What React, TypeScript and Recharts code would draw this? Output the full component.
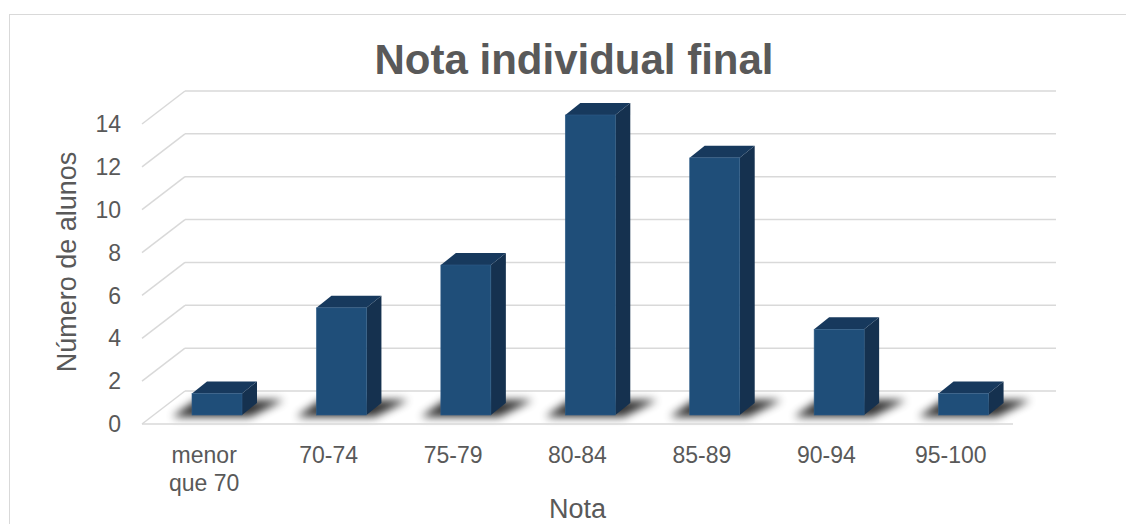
import React from "react";
import { BarChart, Bar, XAxis, YAxis, CartesianGrid } from "recharts";

const categories = ["menor que 70", "70-74", "75-79", "80-84", "85-89", "90-94", "95-100"];
const counts = [1, 5, 7, 14, 12, 4, 1];
const yTicks = [0, 2, 4, 6, 8, 10, 12, 14];
const chartTitle = "Nota individual final";
const xTitle = "Nota";
const yTitle = "Número de alunos";

const data = categories.map((c, i) => ({ nota: c, alunos: counts[i] }));

const FONT = "'Liberation Sans', Arial, sans-serif";
const TEXT = "#595959";
const GRID = "#d9d9d9";
const DEPTH_X = 43;
const DEPTH_Y = -33;
const BAR_SHIFT_X = 13;
const BAR_SHIFT_Y = -9;
const SIDE_X = 15;
const SIDE_Y = -12;

const GridLine = (props: any) => {
  const { x1, y1, x2 } = props;
  return (
    <g key={props.key}>
      <line x1={x1} y1={y1} x2={x1 + DEPTH_X} y2={y1 + DEPTH_Y} stroke={GRID} strokeWidth={1.5} />
      <line x1={x1 + DEPTH_X} y1={y1 + DEPTH_Y} x2={x2 + DEPTH_X} y2={y1 + DEPTH_Y} stroke={GRID} strokeWidth={1.5} />
    </g>
  );
};

const Bar3D = (props: any) => {
  const { x, y, width, height, index } = props;
  if (width == null || height == null) return null;
  const x0 = x + BAR_SHIFT_X;
  const x1 = x0 + width;
  const yt = y + BAR_SHIFT_Y;
  const yb = y + height + BAR_SHIFT_Y;
  const fid = `bshadow-${index}`;
  return (
    <g>
      <defs>
        <filter id={fid} x="-50%" y="-100%" width="200%" height="300%">
          <feGaussianBlur stdDeviation="4.5" />
        </filter>
      </defs>
      <polygon
        points={`${x0 - 20},${yb + 2} ${x1 + 8},${yb + 2} ${x1 + 42},${yb - 15} ${x0 + 4},${yb - 15}`}
        fill="#000"
        opacity={0.8}
        filter={`url(#${fid})`}
      />
      <polygon
        points={`${x1},${yt} ${x1 + SIDE_X},${yt + SIDE_Y} ${x1 + SIDE_X},${yb + SIDE_Y} ${x1},${yb}`}
        fill="#15314f"
      />
      <polygon
        points={`${x0},${yt} ${x0 + SIDE_X},${yt + SIDE_Y} ${x1 + SIDE_X},${yt + SIDE_Y} ${x1},${yt}`}
        fill="#17395d"
      />
      <rect x={x0} y={yt} width={width} height={yb - yt} fill="#1f4e79" stroke="#2f5d88" strokeWidth={0.6} />
    </g>
  );
};

const XTick = (props: any) => {
  const { x, y, payload } = props;
  const words = String(payload.value).split(" ");
  const lines = words.length > 1 ? [words[0], words.slice(1).join(" ")] : [words[0]];
  return (
    <text x={x} y={y + 39} textAnchor="middle" fill={TEXT} fontSize={23} fontFamily={FONT}>
      {lines.map((l, i) => (
        <tspan key={i} x={x} dy={i === 0 ? 0 : 28}>
          {l}
        </tspan>
      ))}
    </text>
  );
};

const YLabel = (props: any) => {
  const vb = props.viewBox || { x: 22, y: 124, width: 120, height: 300 };
  const cx = vb.x + 45;
  const cy = vb.y + vb.height / 2 - 12;
  return (
    <text
      x={cx}
      y={cy}
      transform={`rotate(-90, ${cx}, ${cy})`}
      textAnchor="middle"
      dominantBaseline="central"
      fill={TEXT}
      fontSize={27}
      fontFamily={FONT}
    >
      {yTitle}
    </text>
  );
};

const XLabel = (props: any) => {
  const vb = props.viewBox || { x: 142, y: 424, width: 871, height: 60 };
  return (
    <text x={vb.x + vb.width / 2} y={vb.y + 94} textAnchor="middle" fill={TEXT} fontSize={27} fontFamily={FONT}>
      {xTitle}
    </text>
  );
};

export default function App() {
  return (
    <div style={{ position: "absolute", left: 0, top: 0, width: 1126, height: 524, overflow: "hidden", background: "#fff" }}>
      <div
        style={{
          position: "absolute",
          left: 9,
          top: 14,
          width: 1300,
          height: 700,
          border: `1.5px solid ${GRID}`,
          boxSizing: "border-box",
        }}
      />
      <div
        style={{
          position: "absolute",
          left: 274,
          top: 39,
          width: 600,
          textAlign: "center",
          fontFamily: FONT,
          fontWeight: "bold",
          fontSize: 42,
          lineHeight: "42px",
          color: TEXT,
        }}
      >
        {chartTitle}
      </div>
      <div style={{ position: "absolute", left: 0, top: 0 }}>
        <BarChart width={1126} height={524} data={data} margin={{ top: 124, right: 113, bottom: 40, left: 22 }}>
          <CartesianGrid vertical={false} horizontal={GridLine as any} />
          <XAxis
            dataKey="nota"
            height={60}
            tickLine={false}
            tickSize={0}
            tickMargin={0}
            axisLine={{ stroke: GRID, strokeWidth: 1.5 }}
            tick={<XTick />}
            interval={0}
            label={{ content: XLabel } as any}
          />
          <YAxis
            width={120}
            domain={[0, 14]}
            ticks={yTicks}
            tickLine={false}
            axisLine={false}
            tickSize={0}
            tickMargin={21}
            tick={{ fill: TEXT, fontSize: 23, fontFamily: FONT }}
            label={{ content: YLabel } as any}
          />
          <Bar dataKey="alunos" barSize={50} shape={Bar3D} isAnimationActive={false} />
        </BarChart>
      </div>
    </div>
  );
}
